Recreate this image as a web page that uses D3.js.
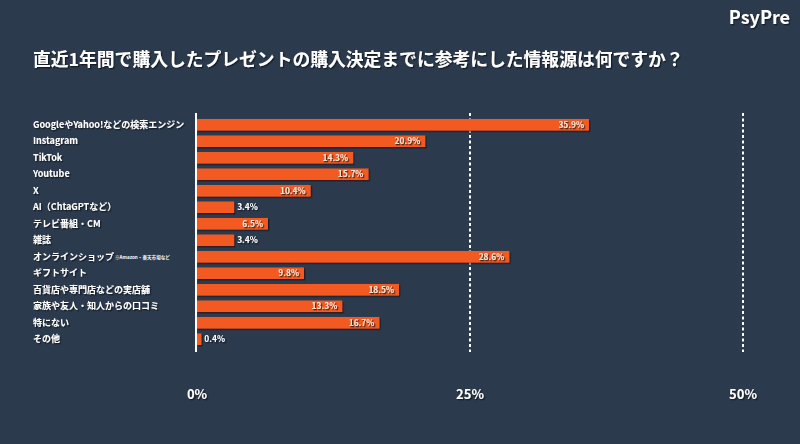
<!DOCTYPE html>
<html>
<head>
<meta charset="utf-8">
<script src="https://cdn.jsdelivr.net/npm/d3@7"></script>
<style>
  body { margin: 0; background: #2c3a4d; }
  svg { display: block; font-family: "Noto Sans CJK JP", "Noto Sans", sans-serif; }
</style>
</head>
<body>
<script>
// categories and shares (%)
const categories = [
    "GoogleやYahoo!などの検索エンジン",
    "Instagram",
    "TikTok",
    "Youtube",
    "X",
    "AI（ChtaGPTなど）",
    "テレビ番組・CM",
    "雑誌",
    "オンラインショップ",
    "ギフトサイト",
    "百貨店や専門店などの実店舗",
    "家族や友人・知人からの口コミ",
    "特にない",
    "その他"
];
const values = [35.9, 20.9, 14.3, 15.7, 10.4, 3.4, 6.5, 3.4, 28.6, 9.8, 18.5, 13.3, 16.7, 0.4];
const ticks = [0, 25, 50];
const title = "直近1年間で購入したプレゼントの購入決定までに参考にした情報源は何ですか？";

const width = 800, height = 444;

const svg = d3.select("body").append("svg")
    .attr("width", width)
    .attr("height", height);

const defs = svg.append("defs");
const shadow = defs.append("filter").attr("id", "shadow")
    .attr("x", "-10%").attr("y", "-20%").attr("width", "130%").attr("height", "160%");
shadow.append("feDropShadow")
    .attr("dx", 1.2).attr("dy", 1.2).attr("stdDeviation", 0.6)
    .attr("flood-color", "#111820").attr("flood-opacity", 0.85);

svg.append("rect").attr("width", width).attr("height", height).attr("fill", "#2c3a4d");

// logo
svg.append("text")
    .attr("x", 790).attr("y", 24)
    .attr("text-anchor", "end")
    .attr("font-size", 18).attr("font-weight", 700)
    .attr("fill", "#ffffff")
    .attr("filter", "url(#shadow)")
    .text("PsyPre");

// title
svg.append("text")
    .attr("x", 33).attr("y", 66)
    .attr("font-size", 17.8).attr("font-weight", 700)
    .attr("fill", "#ffffff")
    .attr("filter", "url(#shadow)")
    .text(title);

const xScale = d3.scaleLinear()
    .domain([0, 50])
    .range([197, 743]);

const yScale = d3.scaleBand()
    .domain(categories)
    .range([116.5, 347.5])
    .paddingInner(0.3)
    .paddingOuter(0.15);

const plotTop = 113, plotBottom = 352;

// dashed grid lines at 25% and 50%
svg.selectAll("line.grid")
    .data(ticks.filter(t => t > 0))
    .enter()
    .append("line")
    .attr("class", "grid")
    .attr("x1", d => xScale(d))
    .attr("x2", d => xScale(d))
    .attr("y1", plotTop)
    .attr("y2", plotBottom)
    .attr("stroke", "#ffffff")
    .attr("stroke-width", 2)
    .attr("stroke-dasharray", "3,2.5");

// tick labels
svg.selectAll("text.tick")
    .data(ticks)
    .enter()
    .append("text")
    .attr("class", "tick")
    .attr("x", d => xScale(d))
    .attr("y", 399)
    .attr("text-anchor", "middle")
    .attr("font-size", 13).attr("font-weight", 700)
    .attr("fill", "#ffffff")
    .attr("filter", "url(#shadow)")
    .text(d => d + "%");

// bars
svg.selectAll("rect.bar")
    .data(values)
    .enter()
    .append("rect")
    .attr("class", "bar")
    .attr("x", xScale(0))
    .attr("y", (d, i) => yScale(categories[i]))
    .attr("width", d => xScale(d) - xScale(0))
    .attr("height", yScale.bandwidth())
    .attr("fill", "#f25a24")
    .attr("filter", "url(#shadow)");

// zero axis line
svg.append("line")
    .attr("x1", xScale(0) - 1).attr("x2", xScale(0) - 1)
    .attr("y1", plotTop).attr("y2", plotBottom)
    .attr("stroke", "#ffffff").attr("stroke-width", 2);

// category labels
svg.selectAll("text.cat")
    .data(categories)
    .enter()
    .append("text")
    .attr("class", "cat")
    .attr("x", 33)
    .attr("y", d => yScale(d) + yScale.bandwidth() / 2)
    .attr("dy", "0.36em")
    .attr("font-size", 9).attr("font-weight", 700)
    .attr("fill", "#ffffff")
    .attr("filter", "url(#shadow)")
    .text(d => d);

// small note next to オンラインショップ
svg.append("text")
    .attr("x", 115)
    .attr("y", yScale("オンラインショップ") + yScale.bandwidth() / 2 + 2)
    .attr("font-size", 4.6).attr("font-weight", 700)
    .attr("fill", "#ffffff")
    .text("※Amazon・楽天市場など");

// value labels
svg.selectAll("text.val")
    .data(values)
    .enter()
    .append("text")
    .attr("class", "val")
    .attr("x", d => d < 5 ? xScale(d) + 3 : xScale(d) - 5)
    .attr("y", (d, i) => yScale(categories[i]) + yScale.bandwidth() / 2)
    .attr("dy", "0.36em")
    .attr("text-anchor", d => d < 5 ? "start" : "end")
    .attr("font-size", 8.4).attr("font-weight", 700)
    .attr("fill", d => d < 5 ? "#ffffff" : "#fde6d6")
    .attr("filter", "url(#shadow)")
    .text(d => d.toFixed(1) + "%");
</script>
</body>
</html>
